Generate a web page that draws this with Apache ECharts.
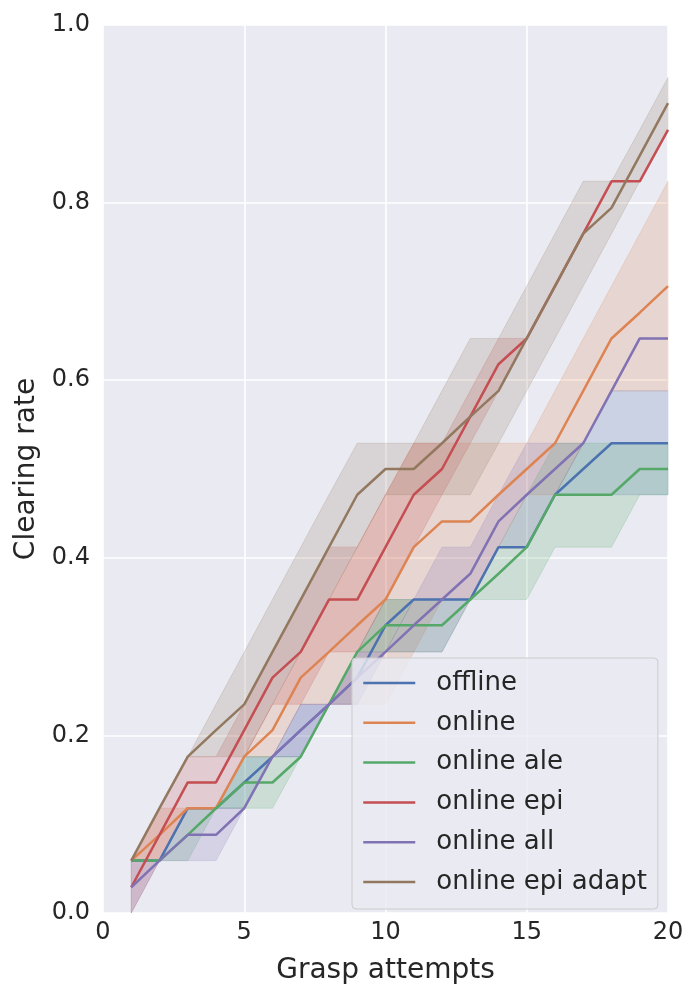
<!DOCTYPE html>
<html>
<head>
<meta charset="utf-8">
<title>Clearing rate</title>
<script src="https://cdn.jsdelivr.net/npm/echarts@6/dist/echarts.min.js"></script>
<style>
    html, body { margin: 0; padding: 0; background: #ffffff; }
    #main { width: 700px; height: 1000px; }
</style>
</head>
<body>
<div id="main"></div>
<script>
// x axis: grasp attempt number
var attempts = [1, 2, 3, 4, 5, 6, 7, 8, 9, 10, 11, 12, 13, 14, 15, 16, 17, 18, 19, 20];
var xTicks = [0, 5, 10, 15, 20];
var yTicks = [0.0, 0.2, 0.4, 0.6, 0.8, 1.0];

// offline
var offlineMean = [0.059, 0.059, 0.118, 0.118, 0.147, 0.176, 0.206, 0.235, 0.265, 0.324, 0.353, 0.353, 0.353, 0.412, 0.412, 0.471, 0.5, 0.529, 0.529, 0.529];
var offlineLow = [0.059, 0.059, 0.118, 0.118, 0.118, 0.176, 0.176, 0.235, 0.235, 0.294, 0.353, 0.353, 0.353, 0.412, 0.412, 0.471, 0.471, 0.471, 0.471, 0.471];
var offlineHigh = [0.059, 0.059, 0.118, 0.118, 0.176, 0.176, 0.235, 0.235, 0.294, 0.353, 0.353, 0.353, 0.353, 0.412, 0.412, 0.471, 0.529, 0.588, 0.588, 0.588];

// online
var onlineMean = [0.059, 0.088, 0.118, 0.118, 0.176, 0.206, 0.265, 0.294, 0.324, 0.353, 0.412, 0.441, 0.441, 0.471, 0.5, 0.529, 0.588, 0.647, 0.676, 0.706];
var onlineLow = [0.059, 0.059, 0.118, 0.118, 0.176, 0.176, 0.235, 0.235, 0.235, 0.235, 0.294, 0.353, 0.353, 0.412, 0.471, 0.471, 0.529, 0.588, 0.588, 0.588];
var onlineHigh = [0.059, 0.118, 0.118, 0.118, 0.176, 0.235, 0.294, 0.353, 0.412, 0.471, 0.529, 0.529, 0.529, 0.529, 0.529, 0.588, 0.647, 0.706, 0.765, 0.824];

// online ale
var aleMean = [0.059, 0.059, 0.088, 0.118, 0.147, 0.147, 0.176, 0.235, 0.294, 0.324, 0.324, 0.324, 0.353, 0.382, 0.412, 0.471, 0.471, 0.471, 0.5, 0.5];
var aleLow = [0.059, 0.059, 0.059, 0.118, 0.118, 0.118, 0.176, 0.235, 0.294, 0.294, 0.294, 0.294, 0.353, 0.353, 0.353, 0.412, 0.412, 0.412, 0.471, 0.471];
var aleHigh = [0.059, 0.059, 0.118, 0.118, 0.176, 0.176, 0.176, 0.235, 0.294, 0.353, 0.353, 0.353, 0.353, 0.412, 0.471, 0.529, 0.529, 0.529, 0.529, 0.529];

// online epi
var epiMean = [0.029, 0.088, 0.147, 0.147, 0.206, 0.265, 0.294, 0.353, 0.353, 0.412, 0.471, 0.5, 0.559, 0.618, 0.647, 0.706, 0.765, 0.824, 0.824, 0.882];
var epiLow = [0, 0.059, 0.118, 0.118, 0.176, 0.235, 0.235, 0.294, 0.294, 0.353, 0.412, 0.471, 0.529, 0.588, 0.647, 0.706, 0.765, 0.824, 0.824, 0.882];
var epiHigh = [0.059, 0.118, 0.176, 0.176, 0.235, 0.294, 0.353, 0.412, 0.412, 0.471, 0.529, 0.529, 0.588, 0.647, 0.647, 0.706, 0.765, 0.824, 0.824, 0.882];

// online all
var allMean = [0.029, 0.059, 0.088, 0.088, 0.118, 0.176, 0.206, 0.235, 0.265, 0.294, 0.324, 0.353, 0.382, 0.441, 0.471, 0.5, 0.529, 0.588, 0.647, 0.647];
var allLow = [0, 0.059, 0.059, 0.059, 0.118, 0.176, 0.176, 0.235, 0.235, 0.294, 0.294, 0.294, 0.353, 0.412, 0.412, 0.471, 0.529, 0.588, 0.647, 0.647];
var allHigh = [0.059, 0.059, 0.118, 0.118, 0.118, 0.176, 0.235, 0.235, 0.294, 0.294, 0.353, 0.412, 0.412, 0.471, 0.529, 0.529, 0.529, 0.588, 0.647, 0.647];

// online epi adapt
var adaptMean = [0.059, 0.118, 0.176, 0.206, 0.235, 0.294, 0.353, 0.412, 0.471, 0.5, 0.5, 0.529, 0.559, 0.588, 0.647, 0.706, 0.765, 0.794, 0.853, 0.912];
var adaptLow = [0.059, 0.118, 0.176, 0.176, 0.176, 0.235, 0.294, 0.353, 0.412, 0.471, 0.471, 0.471, 0.471, 0.529, 0.588, 0.647, 0.706, 0.765, 0.824, 0.882];
var adaptHigh = [0.059, 0.118, 0.176, 0.235, 0.294, 0.353, 0.412, 0.471, 0.529, 0.529, 0.529, 0.588, 0.647, 0.647, 0.706, 0.765, 0.824, 0.824, 0.882, 0.941];

var names = ['offline', 'online', 'online ale', 'online epi', 'online all', 'online epi adapt'];
var colors = ['#4C72B0', '#DD8452', '#55A868', '#C44E52', '#8172B3', '#937860'];
var means = [offlineMean, onlineMean, aleMean, epiMean, allMean, adaptMean];
var lows = [offlineLow, onlineLow, aleLow, epiLow, allLow, adaptLow];
var highs = [offlineHigh, onlineHigh, aleHigh, epiHigh, allHigh, adaptHigh];

var font = 'DejaVu Sans';
var textColor = '#262626';

// one polygon per band: upper edge forward, lower edge back
var bandRenderer = function (low, high, color) {
    return function (params, api) {
        if (params.dataIndex !== 0) {
            return;
        }
        var pts = [];
        for (var i = 0; i < attempts.length; i++) {
            pts.push(api.coord([attempts[i], high[i]]));
        }
        for (var j = attempts.length - 1; j >= 0; j--) {
            pts.push(api.coord([attempts[j], low[j]]));
        }
        return {
            type: 'polygon',
            shape: { points: pts },
            style: { fill: color, stroke: color, lineWidth: 1, opacity: 0.2 }
        };
    };
};

var drawChart = function () {
    var myChart = echarts.init(document.getElementById('main'));

    var series = [];
    names.forEach(function (name, k) {
        series.push({
            type: 'custom',
            name: name + ' band',
            renderItem: bandRenderer(lows[k], highs[k], colors[k]),
            data: attempts.map(function (x, i) { return [x, lows[k][i], highs[k][i]]; }),
            encode: { x: 0, y: [1, 2] },
            silent: true,
            z: 1
        });
    });
    names.forEach(function (name, k) {
        series.push({
            type: 'line',
            name: name,
            data: attempts.map(function (x, i) { return [x, means[k][i]]; }),
            symbol: 'none',
            showSymbol: false,
            color: colors[k],
            lineStyle: { color: colors[k], width: 2.5 },
            z: 3
        });
    });

    var option = {
        animation: false,
        backgroundColor: '#ffffff',
        grid: {
            left: 103, right: 32, top: 25, bottom: 87,
            show: true, backgroundColor: '#EAEAF2', borderWidth: 0
        },
        xAxis: {
            type: 'value',
            min: xTicks[0],
            max: xTicks[xTicks.length - 1],
            interval: xTicks[1] - xTicks[0],
            name: 'Grasp attempts',
            nameLocation: 'middle',
            nameGap: 44,
            nameTextStyle: { fontFamily: font, fontSize: 28, color: textColor },
            axisLine: { show: false },
            axisTick: { show: false },
            axisLabel: { fontFamily: font, fontSize: 24, color: textColor, margin: 8 },
            splitLine: { show: true, lineStyle: { color: '#ffffff', width: 1.6 } }
        },
        yAxis: {
            type: 'value',
            min: yTicks[0],
            max: yTicks[yTicks.length - 1],
            interval: 0.2,
            name: 'Clearing rate',
            nameLocation: 'middle',
            nameGap: 61,
            nameTextStyle: { fontFamily: font, fontSize: 28, color: textColor },
            axisLine: { show: false },
            axisTick: { show: false },
            axisLabel: {
                fontFamily: font, fontSize: 24, color: textColor, margin: 13,
                formatter: function (v) { return v.toFixed(1); }
            },
            splitLine: { show: true, lineStyle: { color: '#ffffff', width: 1.6 } }
        },
        legend: {
            data: names,
            orient: 'vertical',
            left: 352,
            top: 658,
            itemWidth: 52,
            itemHeight: 14,
            itemGap: 13.8,
            padding: [12, 11, 14, 10],
            backgroundColor: 'rgba(234,234,242,0.8)',
            borderColor: '#cccccc',
            borderWidth: 1,
            borderRadius: 4,
            // hide the marker, keep only the line sample
            itemStyle: { opacity: 0 },
            lineStyle: { width: 2.5 },
            textStyle: {
                fontFamily: font, fontSize: 26, color: textColor,
                lineHeight: 22, padding: [0, 0, 0, 16]
            }
        },
        series: series
    };

    myChart.setOption(option);
};

drawChart();
</script>
</body>
</html>
